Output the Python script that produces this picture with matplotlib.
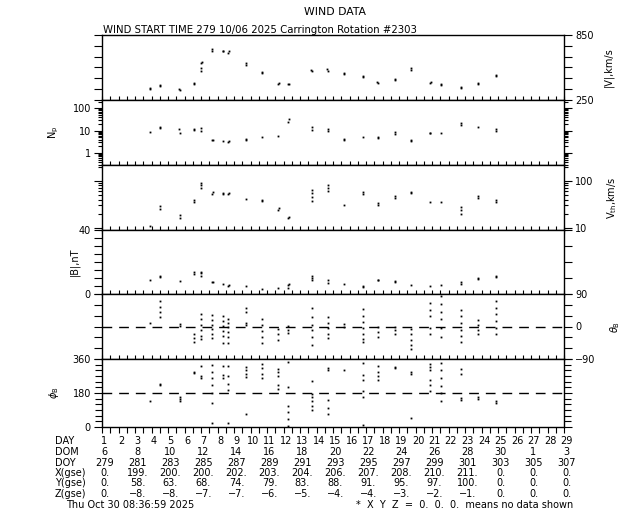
import matplotlib
matplotlib.use('Agg')
import matplotlib.pyplot as plt
import matplotlib.transforms as mtrans
from matplotlib.ticker import FixedLocator, NullFormatter, FixedFormatter, LogLocator

plt.rcParams['font.family'] = ['DejaVu Sans']
plt.rcParams['mathtext.fontset'] = 'dejavusans'

# ---------------- data ----------------
v_day = [2.89, 2.89, 3.49, 3.52, 4.71, 4.68, 5.59, 5.57, 5.97, 5.99, 6.03, 6.05,
         6.69, 6.67, 7.34, 7.36, 7.66, 7.68, 8.71, 8.70, 9.69, 9.70, 10.69, 10.71,
         11.30, 11.32, 12.70, 12.68, 13.67, 13.66, 14.68, 14.69, 15.82, 15.84,
         16.70, 16.69, 17.73, 17.75, 18.73, 18.72, 19.89, 19.91, 20.55, 20.56,
         21.76, 21.78, 22.76, 22.77, 23.85, 23.86]
v_val = [355, 362, 375, 385, 340, 348, 400, 410, 520, 545, 590, 600,
         705, 718, 700, 706, 688, 700, 575, 590, 503, 510, 398, 404,
         394, 400, 520, 530, 522, 540, 490, 498, 465, 472,
         408, 420, 432, 442, 530, 545, 410, 420, 390, 402,
         362, 370, 396, 404, 468, 482]

np_day = [2.89, 3.49, 3.50, 4.71, 4.69, 5.59, 5.60, 5.99, 6.00, 6.69, 6.70, 7.34,
          7.66, 7.67, 8.71, 8.72, 9.69, 10.69, 11.30, 11.31, 12.70, 12.71,
          13.67, 13.68, 14.68, 14.69, 15.82, 16.70, 16.71, 17.73, 17.74,
          18.73, 18.74, 19.89, 19.90, 20.55, 21.76, 21.77, 22.76, 23.85, 23.86]
np_val = [9, 13, 15, 8, 12, 11, 12, 10, 13, 3.8, 4.0, 3.3,
          3.2, 3.5, 4.0, 4.4, 5.0, 6.0, 25, 32, 11, 15,
          10, 12, 4.0, 4.4, 5.0, 4.8, 5.4, 7, 9,
          3.4, 3.7, 7.5, 8, 7.5, 17, 21, 15, 10, 12]

vth_day = [2.89, 3.49, 3.50, 4.71, 4.70, 5.59, 5.60, 5.99, 6.00, 6.01, 6.69, 6.70,
           7.34, 7.35, 7.66, 7.67, 8.71, 9.69, 9.70, 10.69, 10.70, 11.30, 11.31,
           12.70, 12.70, 12.71, 12.71, 13.67, 13.67, 13.68, 14.68, 15.82, 15.83,
           16.70, 16.71, 17.73, 17.74, 18.73, 18.74, 19.89, 20.55, 21.76, 21.76,
           21.77, 22.76, 22.77, 23.85, 23.86]
vth_val = [11, 25, 29, 16, 19, 36, 40, 80, 90, 70, 52, 58,
           52, 56, 52, 56, 42, 37, 39, 24, 27, 16, 17,
           45, 55, 65, 38, 62, 72, 80, 31, 52, 58,
           30, 34, 44, 47, 54, 57, 36, 36, 20, 24,
           28, 44, 47, 36, 40]

b_day = [2.89, 3.49, 3.50, 4.71, 5.59, 5.60, 5.99, 6.00, 6.01, 6.69, 6.70, 7.34,
         7.66, 7.67, 8.71, 9.69, 10.69, 11.30, 11.30, 11.31, 12.70, 12.70, 12.71,
         13.67, 13.68, 14.68, 15.82, 15.83, 16.70, 16.71, 17.73, 17.74, 18.73,
         19.89, 20.55, 21.76, 21.77, 22.76, 22.77, 23.85, 23.86]
b_val = [8.8, 10.5, 11.5, 8.0, 12.5, 13.5, 11.5, 13, 14, 7.2, 7.6, 6.2,
         5.2, 5.6, 4.8, 3.0, 3.6, 4, 5.5, 6, 8.5, 10, 11,
         7, 8.5, 6.4, 4.5, 5, 8.5, 9, 7.6, 8.2, 5.6,
         5.3, 5.7, 6.2, 7.2, 9.6, 10.2, 10.5, 11.2]

th_day = ([2.89] + [3.49] * 4 + [4.71] * 2 + [5.59] * 3 + [5.99] * 6 + [6.69] * 6
          + [7.34] * 6 + [7.66] * 6 + [8.71] * 4 + [9.69] * 5 + [10.69] * 3
          + [11.30] * 3 + [12.70] * 6 + [13.67] * 5 + [14.68] * 2 + [15.82] * 7
          + [16.70] * 3 + [17.73] * 3 + [18.73] * 5 + [19.89] * 5 + [20.55] * 6
          + [21.76] * 6 + [22.76] * 4 + [23.85] * 6)
th_val = [10,
          70, 55, 40, 25,
          8, 2,
          -22, -32, -42,
          36, 20, 5, -10, -25, -35,
          32, 18, 5, -8, -20, -32,
          28, 15, 2, -12, -25, -45,
          22, 10, -2, -15, -30, -45,
          52, 40, 10, 5,
          22, 5, -12, -28, -45,
          -8, -22, -38,
          2, -10, -18,
          52, 25, 5, -10, -30, -50,
          25, 10, -5, -20, -32,
          6, 0,
          48, 30, 12, -5, -20, -35, -44,
          -2, -15, -30,
          -2, -10, -22,
          -8, -22, -38, -52, -63,
          65, 45, 30, -5, -20,
          84, 62, 40, 20, -5, -28,
          45, 28, 10, -10, -25, -44,
          18, 5, -10, -20,
          70, 50, 35, 15, -5, -20]

ph_day = ([2.89] + [3.49] * 2 + [4.71] * 3 + [5.59] * 2 + [5.99] * 3 + [6.69] * 7
          + [7.34] * 3 + [7.66] * 5 + [8.71] * 5 + [9.69] * 4 + [10.69] * 5
          + [11.30] * 6 + [12.70] * 6 + [13.67] * 5 + [14.68] + [15.82] * 6
          + [16.70] * 4 + [17.73] * 2 + [18.73] * 3 + [19.89] * 6 + [20.55] * 6
          + [21.76] * 4 + [22.76] * 2 + [23.85] * 2)
ph_val = [137,
          220, 230,
          160, 150, 140,
          285, 290,
          325, 262, 270,
          330, 290, 260, 225, 180, 125, 20,
          322, 275, 260,
          322, 270, 230, 195, 20,
          318, 300, 280, 265, 70,
          335, 310, 280, 260,
          305, 290, 270, 220, 200,
          342, 210, 110, 80, 40, 5,
          245, 175, 160, 140, 110, 90,
          310, 300, 145, 100, 70,
          300,
          340, 275, 250, 190, 160, 10,
          325, 290, 270, 250,
          320, 315,
          290, 280, 50,
          335, 320, 300, 250, 220, 190,
          340, 300, 260, 215, 180, 140,
          305, 280, 155, 145,
          160, 150,
          140, 128]

day_labels = [str(i) for i in range(1, 30)]
dom_labels = ['6', '8', '10', '12', '14', '16', '18', '20', '22', '24', '26', '28', '30', '1', '3']
doy_labels = ['279', '281', '283', '285', '287', '289', '291', '293', '295', '297',
              '299', '301', '303', '305', '307']
x_gse = ['0.', '199.', '200.', '200.', '202.', '203.', '204.', '206.', '207.', '208.',
         '210.', '211.', '0.', '0.', '0.']
y_gse = ['0.', '58.', '63.', '68.', '74.', '79.', '83.', '88.', '91.', '95.',
         '97.', '100.', '0.', '0.', '0.']
z_gse = ['0.', '\u22128.', '\u22128.', '\u22127.', '\u22127.', '\u22126.', '\u22125.', '\u22124.',
         '\u22124.', '\u22123.', '\u22122.', '\u22121.', '0.', '0.', '0.']

# ---------------- layout ----------------
W, H = 640, 512
FS = 7
fig = plt.figure(figsize=(6.4, 5.12), dpi=100)
fig.patch.set_facecolor('white')

tops = [35, 100, 165, 230, 294, 359]
bots = [100, 165, 230, 294, 359, 427]
AXW = 462
axes = []
for i, (t, b) in enumerate(zip(tops, bots)):
    ax = fig.add_axes([102 / W, 1 - b / H, AXW / W, (b - t) / H])
    ax.set_xlim(0, 28)
    ax.xaxis.set_major_locator(FixedLocator([k * 0.5 for k in range(57)]))
    ax.xaxis.set_major_formatter(NullFormatter())
    last = (i == 5)
    ax.tick_params(axis='x', direction='out' if last else 'inout', length=4 if last else 6,
                   width=0.8, top=False, bottom=True)
    ax.tick_params(axis='y', which='both', direction='out', left=True, right=True,
                   labelsize=FS, width=0.8, pad=2)
    ax.tick_params(axis='y', which='major', length=6)
    ax.tick_params(axis='y', which='minor', length=3)
    for s in ax.spines.values():
        s.set_linewidth(1.0)
        s.set_color('black')
    axes.append(ax)


def lx(px):
    return (px - 102) / AXW


mk = dict(linestyle='none', marker='s', markersize=1.3, markeredgewidth=0, color='black')

# |V|
ax = axes[0]
ax.plot(v_day, v_val, **mk)
ax.set_ylim(250, 850)
ax.yaxis.set_major_locator(FixedLocator([250, 350, 450, 550, 650, 750, 850]))
ax.yaxis.set_major_formatter(FixedFormatter(['250', '', '', '', '', '', '850']))
ax.tick_params(axis='y', labelleft=False, labelright=True)
ax.yaxis.set_label_position('right')
ax.set_ylabel('|V|,km/s', fontsize=FS)
ax.yaxis.set_label_coords(lx(603), 0.5)

# Np
ax = axes[1]
ax.plot(np_day, np_val, **mk)
ax.set_yscale('log')
ax.set_ylim(0.29, 234)
ax.yaxis.set_major_locator(FixedLocator([1, 10, 100]))
ax.yaxis.set_major_formatter(FixedFormatter(['1', '10', '100']))
ax.yaxis.set_minor_locator(LogLocator(base=10, subs=range(2, 10)))
ax.yaxis.set_minor_formatter(NullFormatter())
ax.tick_params(axis='y', which='both', labelleft=True, labelright=False)
ax.set_ylabel(r'N$_{\rm p}$', fontsize=FS)
ax.yaxis.set_label_coords(lx(61), 0.5)

# Vth
ax = axes[2]
ax.plot(vth_day, vth_val, **mk)
ax.set_yscale('log')
ax.set_ylim(8.9, 220)
ax.yaxis.set_major_locator(FixedLocator([10, 100]))
ax.yaxis.set_major_formatter(FixedFormatter(['10', '100']))
ax.yaxis.set_minor_locator(LogLocator(base=10, subs=range(2, 10)))
ax.yaxis.set_minor_formatter(NullFormatter())
ax.tick_params(axis='y', which='both', labelleft=False, labelright=True)
ax.yaxis.set_label_position('right')
ax.set_ylabel(r'V$_{\rm th}$,km/s', fontsize=FS)
ax.yaxis.set_label_coords(lx(605), 0.5)

# |B|
ax = axes[3]
ax.plot(b_day, b_val, **mk)
ax.set_ylim(0, 40)
ax.yaxis.set_major_locator(FixedLocator([0, 10, 20, 30, 40]))
ax.yaxis.set_major_formatter(FixedFormatter(['0', '', '', '', '40']))
ax.yaxis.set_minor_locator(FixedLocator([5, 15, 25, 35]))
ax.tick_params(axis='y', which='minor', length=6, right=False)
ax.tick_params(axis='y', labelleft=True, labelright=False)
ax.set_ylabel('|B|,nT', fontsize=FS)
ax.yaxis.set_label_coords(lx(80), 0.5)

# theta_B
ax = axes[4]
ax.plot(th_day, th_val, **mk)
ax.axhline(0, color='black', lw=1.0, dashes=(7, 5))
ax.set_ylim(-90, 90)
ax.yaxis.set_major_locator(FixedLocator([-90, -60, -30, 0, 30, 60, 90]))
ax.yaxis.set_major_formatter(FixedFormatter(['\u221290', '', '', '0', '', '', '90']))
ax.tick_params(axis='y', labelleft=False, labelright=True)
ax.yaxis.set_label_position('right')
ax.set_ylabel(r'$\theta_{\rm B}$', fontsize=FS)
ax.yaxis.set_label_coords(lx(608), 0.5)

# phi_B
ax = axes[5]
ax.plot(ph_day, ph_val, **mk)
ax.axhline(180, color='black', lw=1.0, dashes=(7, 5))
ax.set_ylim(0, 360)
ax.yaxis.set_major_locator(FixedLocator([0, 180, 360]))
ax.yaxis.set_major_formatter(FixedFormatter(['0', '180', '360']))
ax.yaxis.set_minor_locator(FixedLocator([30, 60, 90, 120, 150, 210, 240, 270, 300, 330]))
ax.tick_params(axis='y', which='minor', length=5)
ax.tick_params(axis='y', labelleft=True, labelright=False)
ax.set_ylabel(r'$\phi_{\rm B}$', fontsize=FS)
ax.yaxis.set_label_coords(lx(61), 0.5)

# titles
fig.text(335 / W, 1 - 12 / H, 'WIND DATA', ha='center', va='center', fontsize=7.8)
fig.text(103 / W, 1 - 35 / H, 'WIND START TIME 279 10/06 2025 Carrington Rotation #2303',
         ha='left', va='bottom', fontsize=7.3)

# bottom table
bax = axes[5]
tr = mtrans.blended_transform_factory(bax.transData, fig.transFigure)
rows = [('DAY', 441), ('DOM', 452), ('DOY', 462.5), ('X(gse)', 473), ('Y(gse)', 483.5), ('Z(gse)', 494)]
for name, y in rows:
    fig.text(55 / W, 1 - y / H, name, ha='left', va='center', fontsize=FS)
for i, lab in enumerate(day_labels):
    bax.text(i + 0.15, 1 - rows[0][1] / H, lab, transform=tr, ha='center', va='center', fontsize=FS)
for series, (name, y) in zip([dom_labels, doy_labels, x_gse, y_gse, z_gse], rows[1:]):
    for j, lab in enumerate(series):
        bax.text(2 * j + 0.15, 1 - y / H, lab, transform=tr, ha='center', va='center', fontsize=FS)

fig.text(66 / W, 1 - 505 / H, 'Thu Oct 30 08:36:59 2025', ha='left', va='center', fontsize=FS)
fig.text(573 / W, 1 - 505 / H, '*  X  Y  Z  =  0.  0.  0.  means no data shown', ha='right',
         va='center', fontsize=FS)

fig.savefig('out.png', dpi=100, facecolor='white')
